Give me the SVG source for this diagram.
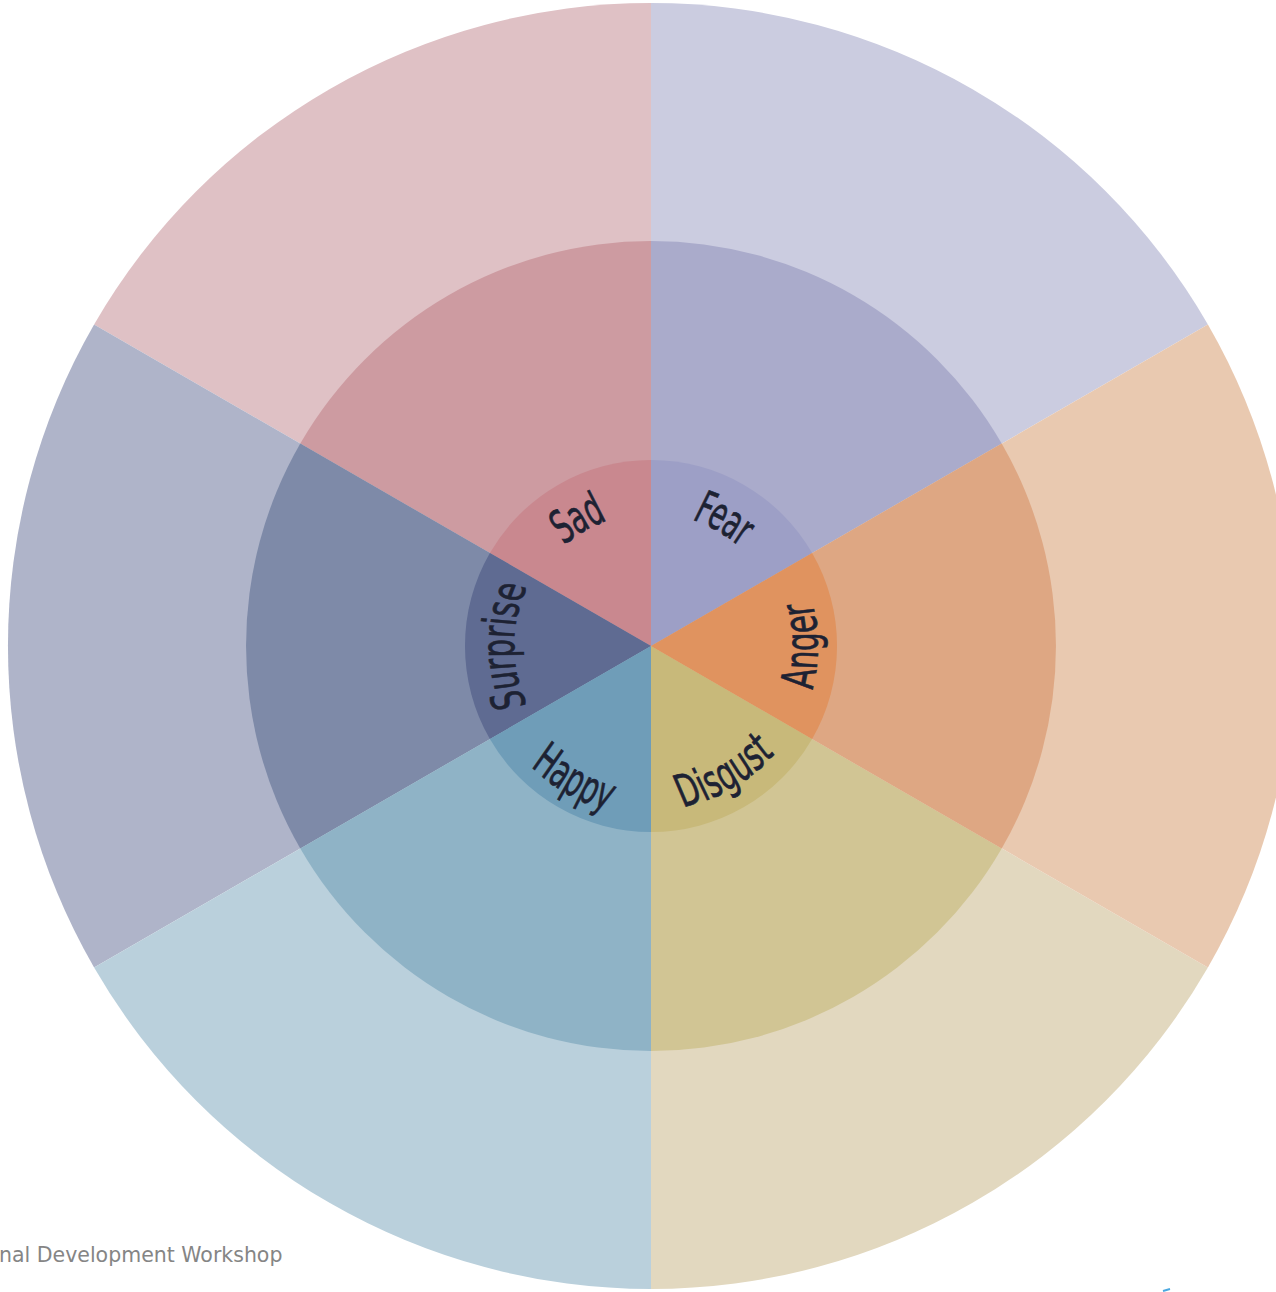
<svg xmlns="http://www.w3.org/2000/svg" xmlns:xlink="http://www.w3.org/1999/xlink" width="1276" height="1292" viewBox="0 0 1276 1292">
<style>
.lbl{font-family:"DejaVu Sans Condensed","DejaVu Sans","Liberation Sans",sans-serif;font-stretch:condensed;font-size:46px;fill:#1d2233;stroke:#1d2233;stroke-width:0.7px;}
.foot{font-family:"DejaVu Sans","Liberation Sans",sans-serif;font-size:20.5px;fill:#858585;}
</style>
<defs>
<path id="pSad" d="M-100,16.3 A314.8,314.8 0 0 1 100,16.3"/>
<path id="pFear" d="M-100,15.4 A331.9,331.9 0 0 1 100,15.4"/>
<path id="pSurprise" d="M-110,23.5 A269.7,269.7 0 0 1 110,23.5"/>
<path id="pHappy" d="M-100,-13.3 A383.4,383.4 0 0 0 100,-13.3"/>
<path id="pDisgust" d="M-100,-14.7 A348.5,348.5 0 0 0 100,-14.7"/>
<path id="pAnger" d="M-100,-15.6 A328.7,328.7 0 0 0 100,-15.6"/>
</defs>
<rect width="1276" height="1292" fill="#ffffff"/>
<g id="outer-ring">
<path d="M651,646 L1207.9,324.5 A643,643 0 0 0 651,3 Z" fill="#cbcce0"/>
<path d="M651,646 L651,3 A643,643 0 0 0 94.1,324.5 Z" fill="#dfc1c5"/>
<path d="M651,646 L94.1,324.5 A643,643 0 0 0 94.1,967.5 Z" fill="#afb4c9"/>
<path d="M651,646 L94.1,967.5 A643,643 0 0 0 651,1289 Z" fill="#bad0dc"/>
<path d="M651,646 L651,1289 A643,643 0 0 0 1207.9,967.5 Z" fill="#e2d8bf"/>
<path d="M651,646 L1207.9,967.5 A643,643 0 0 0 1207.9,324.5 Z" fill="#e9c9b0"/>
</g>
<g id="middle-ring">
<path d="M651,646 L1001.7,443.5 A405,405 0 0 0 651,241 Z" fill="#aaabcb"/>
<path d="M651,646 L651,241 A405,405 0 0 0 300.3,443.5 Z" fill="#cd9ba1"/>
<path d="M651,646 L300.3,443.5 A405,405 0 0 0 300.3,848.5 Z" fill="#7e8aa8"/>
<path d="M651,646 L300.3,848.5 A405,405 0 0 0 651,1051 Z" fill="#8fb3c6"/>
<path d="M651,646 L651,1051 A405,405 0 0 0 1001.7,848.5 Z" fill="#d1c594"/>
<path d="M651,646 L1001.7,848.5 A405,405 0 0 0 1001.7,443.5 Z" fill="#dea783"/>
</g>
<g id="fear">
<path d="M651,646 L812.1,553 A186,186 0 0 0 651,460 Z" fill="#9d9fc6"/>
<text class="lbl" transform="translate(717.5,530.8) rotate(30) scale(0.633,1)"><textPath xlink:href="#pFear" href="#pFear" startOffset="50%" text-anchor="middle">Fear</textPath></text>
</g>
<g id="sad">
<path d="M651,646 L651,460 A186,186 0 0 0 489.9,553 Z" fill="#c9888f"/>
<text class="lbl" transform="translate(584.5,530.8) rotate(-30) scale(0.65,1)"><textPath xlink:href="#pSad" href="#pSad" startOffset="50%" text-anchor="middle">Sad</textPath></text>
</g>
<g id="surprise">
<path d="M651,646 L489.9,553 A186,186 0 0 0 489.9,739 Z" fill="#5f6b92"/>
<text class="lbl" transform="translate(514,646) rotate(-90) scale(0.713,1)"><textPath xlink:href="#pSurprise" href="#pSurprise" startOffset="50%" text-anchor="middle">Surprise</textPath></text>
</g>
<g id="happy">
<path d="M651,646 L489.9,739 A186,186 0 0 0 651,832 Z" fill="#6f9db8"/>
<text class="lbl" transform="translate(566,793.2) rotate(30) scale(0.66,1)"><textPath xlink:href="#pHappy" href="#pHappy" startOffset="50%" text-anchor="middle">Happy</textPath></text>
</g>
<g id="disgust">
<path d="M651,646 L651,832 A186,186 0 0 0 812.1,739 Z" fill="#c8b97a"/>
<text class="lbl" transform="translate(733,788) rotate(-30) scale(0.686,1)"><textPath xlink:href="#pDisgust" href="#pDisgust" startOffset="50%" text-anchor="middle">Disgust</textPath></text>
</g>
<g id="anger">
<path d="M651,646 L812.1,739 A186,186 0 0 0 812.1,553 Z" fill="#e0935f"/>
<text class="lbl" transform="translate(818,646) rotate(-90) scale(0.713,1)"><textPath xlink:href="#pAnger" href="#pAnger" startOffset="50%" text-anchor="middle">Anger</textPath></text>
</g>
<g id="connectors"></g>
<text class="foot" x="-1" y="1262">nal Development Workshop</text>
<path d="M1163,1291 L1170,1289" stroke="#4aa8e0" stroke-width="2" fill="none"/>
</svg>
